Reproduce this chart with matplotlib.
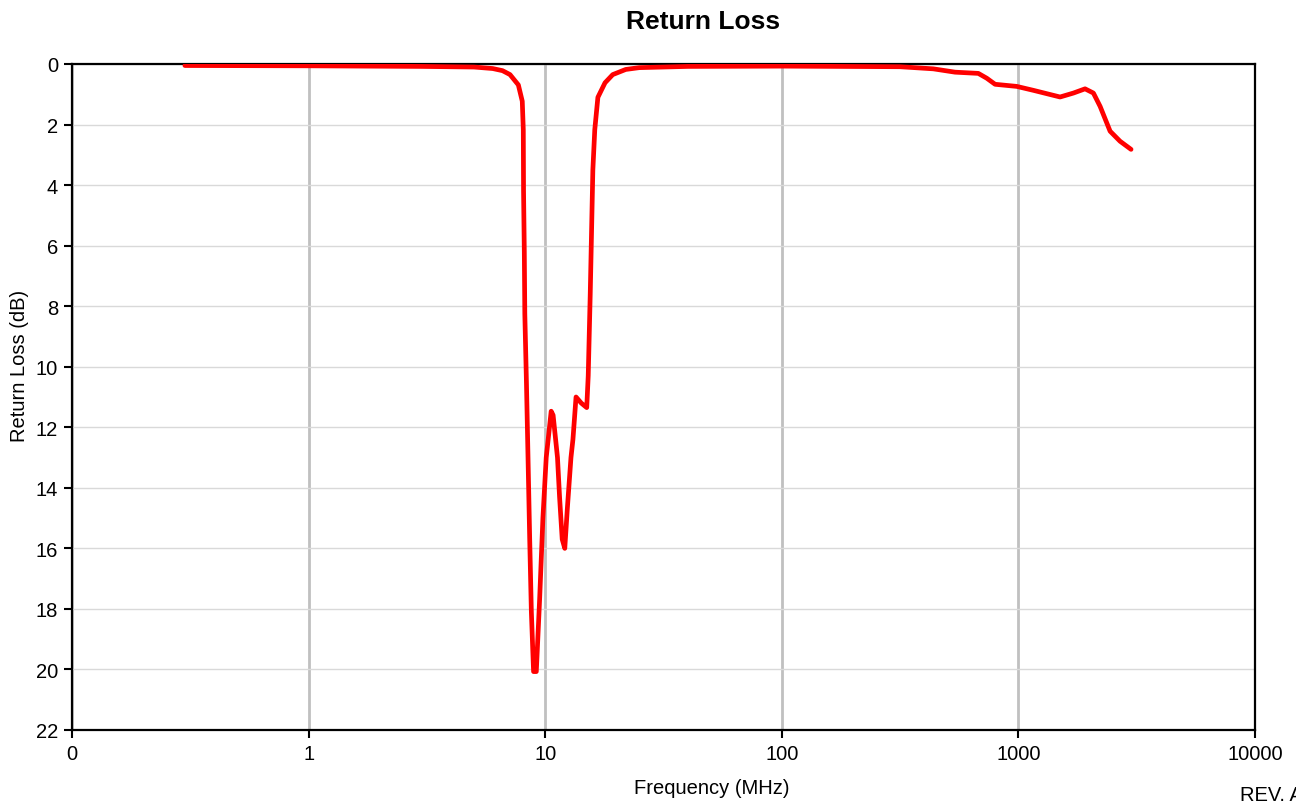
import matplotlib
matplotlib.use("Agg")
import matplotlib.pyplot as plt
import numpy as np

plt.rcParams['font.family'] = ['Liberation Sans', 'DejaVu Sans']

freq_mhz = [0.3, 1.0, 3.0, 5.0, 6.0, 6.6, 7.1, 7.7, 8.0, 8.08, 8.1, 8.16, 8.2, 8.33, 8.46, 8.6,
            8.74, 8.93, 9.17, 9.47, 9.78, 10.1, 10.6, 10.8, 11.27, 11.5, 11.8, 12.1, 12.4,
            12.85, 13.1, 13.5, 14.2, 14.98, 15.2, 15.5, 15.9, 16.2, 16.7, 17.9, 19.3, 21.9,
            25.0, 40.0, 100.0, 316.0, 437.0, 540.0, 677.0, 735.0, 797.0, 984.0, 1157.0,
            1500.0, 1708.0, 1913.0, 2075.0, 2215.0, 2441.0, 2688.0, 2993.0]
return_loss_db = [0.05, 0.06, 0.08, 0.1, 0.15, 0.22, 0.35, 0.69, 1.23, 2.17, 4.2, 6.2, 8.25, 10.5,
                  13.0, 15.7, 18.1, 20.07, 20.07, 17.7, 15.0, 13.0, 11.47, 11.6, 13.0, 14.3,
                  15.7, 16.0, 14.7, 13.0, 12.4, 11.0, 11.2, 11.35, 10.3, 7.6, 3.5, 2.17, 1.1,
                  0.62, 0.35, 0.18, 0.12, 0.08, 0.07, 0.09, 0.16, 0.27, 0.31, 0.47, 0.67,
                  0.74, 0.87, 1.09, 0.96, 0.82, 0.96, 1.40, 2.22, 2.55, 2.82]

x_ticks = [0.1, 1, 10, 100, 1000, 10000]
x_tick_labels = ["0", "1", "10", "100", "1000", "10000"]
y_ticks = list(range(0, 23, 2))

fig = plt.figure(figsize=(12.96, 8.03), dpi=100)
ax = fig.add_axes([72/1296, 1-731/803, (1255-72)/1296, (731-65)/803])

ax.plot(freq_mhz, return_loss_db, color='#ff0000', lw=3.4, solid_joinstyle='round',
        solid_capstyle='round', zorder=3)

ax.set_xscale('log')
ax.set_xlim(0.1, 10000)
ax.set_ylim(22, 0)
ax.set_xticks(x_ticks)
ax.set_xticklabels(x_tick_labels)
ax.xaxis.set_minor_locator(matplotlib.ticker.NullLocator())
ax.set_yticks(y_ticks)

ax.grid(axis='x', color='#c0c0c0', lw=2.0, zorder=0)
ax.grid(axis='y', color='#d9d9d9', lw=1.0, zorder=0)
ax.set_axisbelow(True)

for s in ax.spines.values():
    s.set_linewidth(1.6)
    s.set_color('black')
ax.tick_params(axis='both', direction='out', length=6, width=1.5, labelsize=14.5, pad=4)

fig.text(703/1296, 1-22/803, "Return Loss", fontsize=19, fontweight='bold',
         ha='center', va='center')
fig.text(712/1296, 1-789/803, "Frequency (MHz)", fontsize=14.5, ha='center', va='center')
fig.text(20/1296, 1-366/803, "Return Loss (dB)", fontsize=14.5, rotation=90,
         ha='center', va='center')

fig.text(1240/1296, 1-796/803, "REV. A", fontsize=14.5, ha='left', va='center')

fig.savefig("out.png", dpi=100)
